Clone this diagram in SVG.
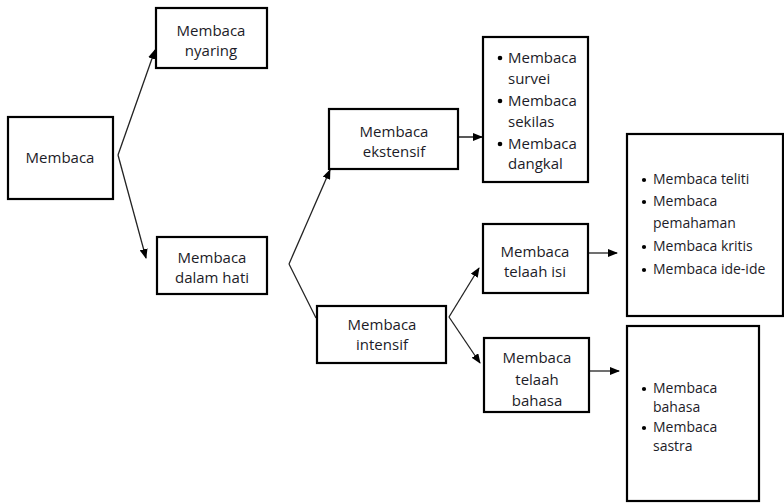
<svg xmlns="http://www.w3.org/2000/svg" width="784" height="503" viewBox="0 0 784 503">
<style>
.box{fill:#fff;stroke:#000;stroke-width:2.2}
.t{font-family:"Open Sans","Liberation Sans",sans-serif;font-size:15px;fill:#1c1c28}
.c{text-anchor:middle}
.s{font-size:14px}
.ln{fill:none;stroke:#222;stroke-width:1.3}
.b{fill:#000}
</style>
<defs>
<marker id="ah" markerWidth="10" markerHeight="8" refX="9" refY="4" orient="auto" markerUnits="userSpaceOnUse">
<path d="M0,0 L10,4 L0,8 Z" fill="#000"/>
</marker>
</defs>
<rect width="784" height="503" fill="#fff"/>
<g id="connectors">
<line class="ln" x1="118" y1="155" x2="155" y2="50" marker-end="url(#ah)"/>
<line class="ln" x1="118" y1="155" x2="146" y2="258" marker-end="url(#ah)"/>
<line class="ln" x1="289" y1="264" x2="330" y2="170" marker-end="url(#ah)"/>
<line class="ln" x1="289" y1="264" x2="316" y2="318"/>
<line class="ln" x1="448" y1="137" x2="482" y2="137" marker-end="url(#ah)"/>
<line class="ln" x1="449" y1="317" x2="479" y2="268" marker-end="url(#ah)"/>
<line class="ln" x1="449" y1="317" x2="480" y2="363" marker-end="url(#ah)"/>
<line class="ln" x1="589" y1="253" x2="617" y2="253" marker-end="url(#ah)"/>
<line class="ln" x1="590" y1="371" x2="619" y2="371" marker-end="url(#ah)"/>
</g>
<g id="membaca"><rect class="box" x="8" y="117" width="105" height="82"/><text class="t c" x="60" y="163">Membaca</text></g>
<g id="nyaring"><rect class="box" x="156" y="8" width="111" height="60"/><text class="t c" x="211" y="36">Membaca</text><text class="t c" x="211" y="56">nyaring</text></g>
<g id="dalam-hati"><rect class="box" x="157" y="237" width="110" height="57"/><text class="t c" x="212" y="263">Membaca</text><text class="t c" x="212" y="283">dalam hati</text></g>
<g id="ekstensif"><rect class="box" x="329" y="109" width="129" height="60"/><text class="t c" x="394" y="137">Membaca</text><text class="t c" x="394" y="157">ekstensif</text></g>
<g id="intensif"><rect class="box" x="317" y="306" width="129" height="57"/><text class="t c" x="382" y="330">Membaca</text><text class="t c" x="382" y="350">intensif</text></g>
<g id="telaah-isi"><rect class="box" x="483" y="224" width="105" height="69"/><text class="t c" x="535" y="257">Membaca</text><text class="t c" x="535" y="277">telaah isi</text></g>
<g id="telaah-bahasa"><rect class="box" x="484" y="338" width="105" height="74"/><text class="t c" x="537" y="363">Membaca</text><text class="t c" x="537" y="385">telaah</text><text class="t c" x="537" y="406">bahasa</text></g>
<g id="list-ekstensif"><rect class="box" x="483" y="37" width="105" height="145"/>
<circle class="b" cx="500" cy="58" r="2.3"/><text class="t" x="508" y="63">Membaca</text><text class="t" x="508" y="84">survei</text>
<circle class="b" cx="500" cy="101" r="2.3"/><text class="t" x="508" y="106">Membaca</text><text class="t" x="508" y="127">sekilas</text>
<circle class="b" cx="500" cy="144" r="2.3"/><text class="t" x="508" y="149">Membaca</text><text class="t" x="508" y="169">dangkal</text>
</g>
<g id="list-isi"><rect class="box" x="627" y="134" width="156" height="182"/>
<circle class="b" cx="644" cy="180" r="2.1"/><text class="t s" x="653" y="184">Membaca teliti</text>
<circle class="b" cx="644" cy="202" r="2.1"/><text class="t s" x="653" y="206">Membaca</text><text class="t s" x="653" y="228">pemahaman</text>
<circle class="b" cx="644" cy="247" r="2.1"/><text class="t s" x="653" y="251">Membaca kritis</text>
<circle class="b" cx="644" cy="270" r="2.1"/><text class="t s" x="653" y="274">Membaca ide-ide</text>
</g>
<g id="list-bahasa"><rect class="box" x="627" y="326" width="132" height="175"/>
<circle class="b" cx="644" cy="389" r="2.1"/><text class="t s" x="653" y="393">Membaca</text><text class="t s" x="653" y="412">bahasa</text>
<circle class="b" cx="644" cy="428" r="2.1"/><text class="t s" x="653" y="432">Membaca</text><text class="t s" x="653" y="451">sastra</text>
</g>
</svg>
